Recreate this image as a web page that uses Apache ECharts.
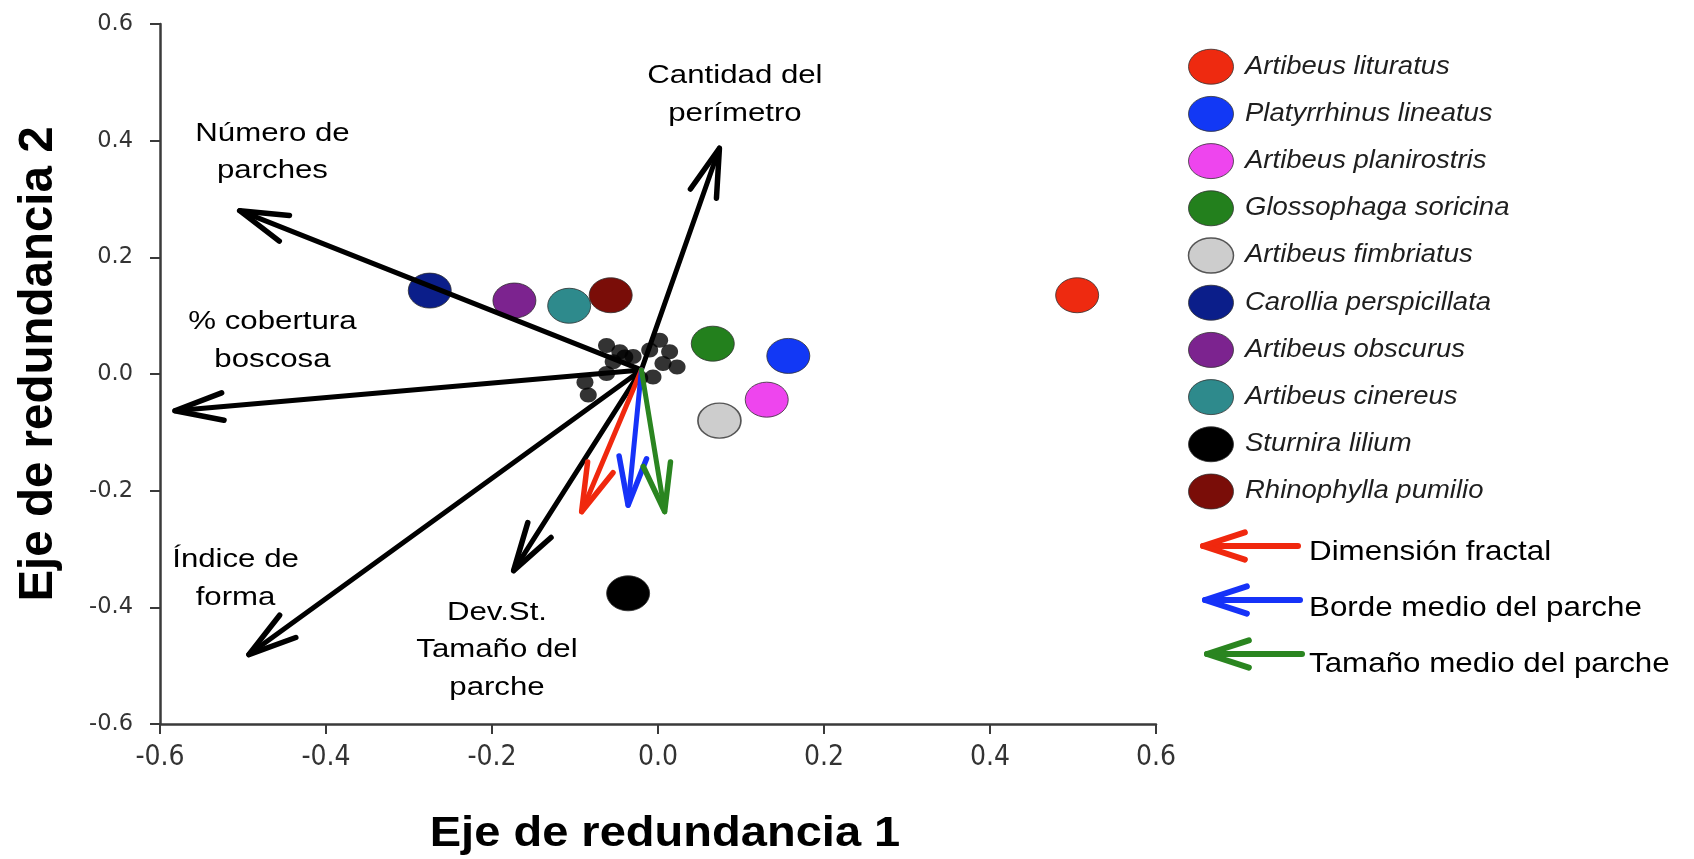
<!DOCTYPE html>
<html>
<head>
<meta charset="utf-8">
<script src="https://cdn.jsdelivr.net/npm/echarts@6/dist/echarts.min.js"></script>
<style>
  html, body { margin: 0; padding: 0; background: #ffffff; }
  #chart { width: 1694px; height: 859px; }
</style>
</head>
<body>
<div id="chart"></div>
<script>
// Species scores on the first two redundancy axes
const speciesNames = [
  'Artibeus lituratus', 'Platyrrhinus lineatus', 'Artibeus planirostris',
  'Glossophaga soricina', 'Artibeus fimbriatus', 'Carollia perspicillata',
  'Artibeus obscurus', 'Artibeus cinereus', 'Sturnira lilium', 'Rhinophylla pumilio'
];
const speciesColors = [
  '#ee2a10', '#1238f5', '#ee45ee', '#23801d', '#cdcdcd',
  '#0b1e8a', '#7c238f', '#2e8a8c', '#000000', '#7a0d08'
];
const speciesX = [0.505, 0.157, 0.131, 0.066, 0.074, -0.275, -0.173, -0.107, -0.036, -0.057];
const speciesY = [0.135, 0.031, -0.044, 0.052, -0.080, 0.143, 0.126, 0.117, -0.376, 0.135];

// Sampling sites (small black points near the origin)
const siteX = [-0.062, -0.046, -0.040, -0.054, -0.062, -0.088, -0.084, 0.002, 0.014, 0.023, 0.006, -0.006, -0.010, -0.022, -0.030];
const siteY = [0.049, 0.038, 0.029, 0.021, 0.001, -0.014, -0.036, 0.058, 0.038, 0.012, 0.018, -0.005, 0.041, -0.007, 0.030];

// Landscape variables (black vectors)
const vectorOrigin = [-0.02, 0.007];
const vectorLabels = [
  'Número de\nparches', '% cobertura\nboscosa', 'Índice de\nforma',
  'Dev.St.\nTamaño del\nparche', 'Cantidad del\nperímetro'
];
const vectorX = [-0.504, -0.582, -0.493, -0.174, 0.074];
const vectorY = [0.280, -0.063, -0.481, -0.337, 0.387];
// where each vector's name is written (data units)
const vectorLabelX = [-0.4645, -0.4645, -0.509, -0.194, 0.0927];
const vectorLabelY = [0.380, 0.057, -0.351, -0.473, 0.479];

// Patch metrics (coloured vectors)
const metricNames = ['Dimensión fractal', 'Borde medio del parche', 'Tamaño medio del parche'];
const metricColors = ['#f0280e', '#1632f8', '#2a8520'];
const metricX = [-0.092, -0.036, 0.008];
const metricY = [-0.236, -0.225, -0.236];

// Axis range
const axisMin = -0.6, axisMax = 0.6, axisStep = 0.2;
const xTitle = 'Eje de redundancia 1';
const yTitle = 'Eje de redundancia 2';

const ELLIPSE = 'path://M50,0 C77.6,0 100,22.4 100,50 C100,77.6 77.6,100 50,100 C22.4,100 0,77.6 0,50 C0,22.4 22.4,0 50,0 Z';
const SANS = "'Liberation Sans', Arial, sans-serif";
const NARROW = "'Liberation Sans Narrow', 'Arial Narrow', 'DejaVu Sans Condensed', sans-serif";

function fmt(v) {
  if (Math.abs(v) < 1e-9) return '0.0';
  return v.toFixed(1);
}

// Arrow: shaft plus an open two-barb head, drawn in pixel space from data coords
function arrowRenderer(lineWidth, barb) {
  return function (params, api) {
    const p0 = api.coord([api.value(0), api.value(1)]);
    const p1 = api.coord([api.value(2), api.value(3)]);
    const back = Math.atan2(p0[1] - p1[1], p0[0] - p1[0]);
    const a = 16 * Math.PI / 180;
    const b1 = [p1[0] + barb * Math.cos(back + a), p1[1] + barb * Math.sin(back + a)];
    const b2 = [p1[0] + barb * Math.cos(back - a), p1[1] + barb * Math.sin(back - a)];
    const color = api.visual('color');
    return {
      type: 'group',
      children: [
        { type: 'line', shape: { x1: p0[0], y1: p0[1], x2: p1[0], y2: p1[1] },
          style: { stroke: color, lineWidth: lineWidth, lineCap: 'round' } },
        { type: 'polyline', shape: { points: [b1, p1, b2] },
          style: { stroke: color, fill: null, lineWidth: lineWidth + 0.5, lineCap: 'round', lineJoin: 'round' } }
      ]
    };
  };
}

const series = [];

series.push({
  name: 'sitios',
  type: 'scatter',
  z: 2,
  symbol: ELLIPSE,
  symbolSize: [17, 15],
  itemStyle: { color: '#000000' },
  data: siteX.map((x, i) => [x, siteY[i]]),
  silent: true
});

speciesNames.forEach((name, i) => {
  series.push({
    name: name,
    type: 'scatter',
    z: 2,
    symbol: ELLIPSE,
    symbolSize: [43, 35],
    itemStyle: {
      color: speciesColors[i],
      borderColor: i === 4 ? '#555555' : '#333333',
      borderWidth: i === 4 ? 1.5 : 0.8,
      opacity: 1
    },
    data: [[speciesX[i], speciesY[i]]],
    silent: true
  });
});

series.push({
  name: 'variables',
  type: 'custom',
  z: 3,
  clip: false,
  renderItem: arrowRenderer(5, 50),
  itemStyle: { color: '#000000' },
  encode: { x: [0, 2], y: [1, 3] },
  data: vectorX.map((x, i) => [vectorOrigin[0], vectorOrigin[1], x, vectorY[i]]),
  silent: true
});

metricNames.forEach((name, i) => {
  series.push({
    name: name,
    type: 'custom',
    z: 4,
    clip: false,
    renderItem: arrowRenderer(5, 50),
    itemStyle: { color: metricColors[i] },
    encode: { x: [0, 2], y: [1, 3] },
    data: [[vectorOrigin[0], vectorOrigin[1], metricX[i], metricY[i]]],
    silent: true
  });
});

const axisCommon = {
  type: 'value',
  min: axisMin,
  max: axisMax,
  interval: axisStep,
  splitLine: { show: false },
  axisLine: { show: true, onZero: false, lineStyle: { color: '#3a3a3a', width: 2.5 } },
  axisTick: { show: true, inside: false, length: 10, lineStyle: { color: '#3a3a3a', width: 2 } }
};

const chart = echarts.init(document.getElementById('chart'), null, { renderer: 'canvas' });

chart.setOption({
  backgroundColor: '#ffffff',
  animation: false,
  grid: { left: 160, right: 538, top: 24, bottom: 135, containLabel: false, outerBoundsMode: 'none' },
  xAxis: Object.assign({}, axisCommon, {
    axisLabel: { formatter: fmt, margin: 20, fontSize: 28, fontFamily: NARROW, color: '#333333' }
  }),
  yAxis: Object.assign({}, axisCommon, {
    axisLabel: { formatter: fmt, margin: 27, fontSize: 22.5, fontFamily: "'DejaVu Sans', sans-serif", color: '#333333' }
  }),
  series: series
});

// Text and key, placed after the axes exist
const graphics = [];

function textEl(text, x, y, opts) {
  return Object.assign({
    type: 'text',
    x: x,
    y: y,
    silent: true,
    z: 10,
    style: Object.assign({
      text: text,
      fill: '#000000',
      fontFamily: SANS,
      fontSize: 26,
      align: 'center',
      verticalAlign: 'middle',
      textAlign: 'center',
      textVerticalAlign: 'middle'
    }, opts.style || {})
  }, opts.el || {});
}

// vector names
vectorLabels.forEach((label, i) => {
  const p = chart.convertToPixel({ gridIndex: 0 }, [vectorLabelX[i], vectorLabelY[i]]);
  graphics.push(textEl(label, p[0], p[1], {
    style: { fontSize: 26, lineHeight: 37.5 },
    el: { scaleX: 1.2 }
  }));
});

// axis titles
const gx0 = chart.convertToPixel({ gridIndex: 0 }, [0, axisMin]);
const gxMin = chart.convertToPixel({ gridIndex: 0 }, [axisMin, 0]);
const gxMax = chart.convertToPixel({ gridIndex: 0 }, [axisMax, 0]);
graphics.push(textEl(xTitle, (gxMin[0] + gxMax[0]) / 2 + 7, gx0[1] + 110, {
  style: { fontSize: 42, fontWeight: 'bold' },
  el: { scaleX: 1.12 }
}));
const gy = chart.convertToPixel({ gridIndex: 0 }, [axisMin, 0]);
graphics.push(textEl(yTitle, 39, gy[1] - 10, {
  style: { fontSize: 47.5, fontWeight: 'bold' },
  el: { rotation: Math.PI / 2 }
}));

// species key
const keyLeft = 1211, keyTop = 66.7, keyStep = 47.2;
speciesNames.forEach((name, i) => {
  const cy = keyTop + i * keyStep;
  graphics.push({
    type: 'ellipse',
    silent: true,
    z: 10,
    shape: { cx: keyLeft, cy: cy, rx: 22.5, ry: 17.5 },
    style: {
      fill: speciesColors[i],
      stroke: i === 4 ? '#555555' : '#333333',
      lineWidth: i === 4 ? 1.5 : 0.8
    }
  });
  graphics.push(textEl(name, keyLeft + 34, cy, {
    style: { fontSize: 25, fontStyle: 'italic', fill: '#1e1e1e', align: 'left', textAlign: 'left' },
    el: { scaleX: 1.1 }
  }));
});

// metric key
const metricKeyRows = [546, 600, 654];
metricNames.forEach((name, i) => {
  const y = metricKeyRows[i];
  const x1 = 1298 + i * 2, x0 = 1203 + i * 2;
  const a = 18 * Math.PI / 180, L = 44;
  graphics.push({
    type: 'line', silent: true, z: 10,
    shape: { x1: x1, y1: y, x2: x0, y2: y },
    style: { stroke: metricColors[i], lineWidth: 6, lineCap: 'round' }
  });
  graphics.push({
    type: 'polyline', silent: true, z: 10,
    shape: { points: [[x0 + L * Math.cos(a), y - L * Math.sin(a)], [x0, y], [x0 + L * Math.cos(a), y + L * Math.sin(a)]] },
    style: { stroke: metricColors[i], fill: null, lineWidth: 6, lineCap: 'round', lineJoin: 'round' }
  });
  graphics.push(textEl(name, 1309, y + 6 + i * 2, {
    style: { fontSize: 28.5, align: 'left', textAlign: 'left' },
    el: { scaleX: 1.1 }
  }));
});

chart.setOption({ graphic: graphics });
</script>
</body>
</html>
